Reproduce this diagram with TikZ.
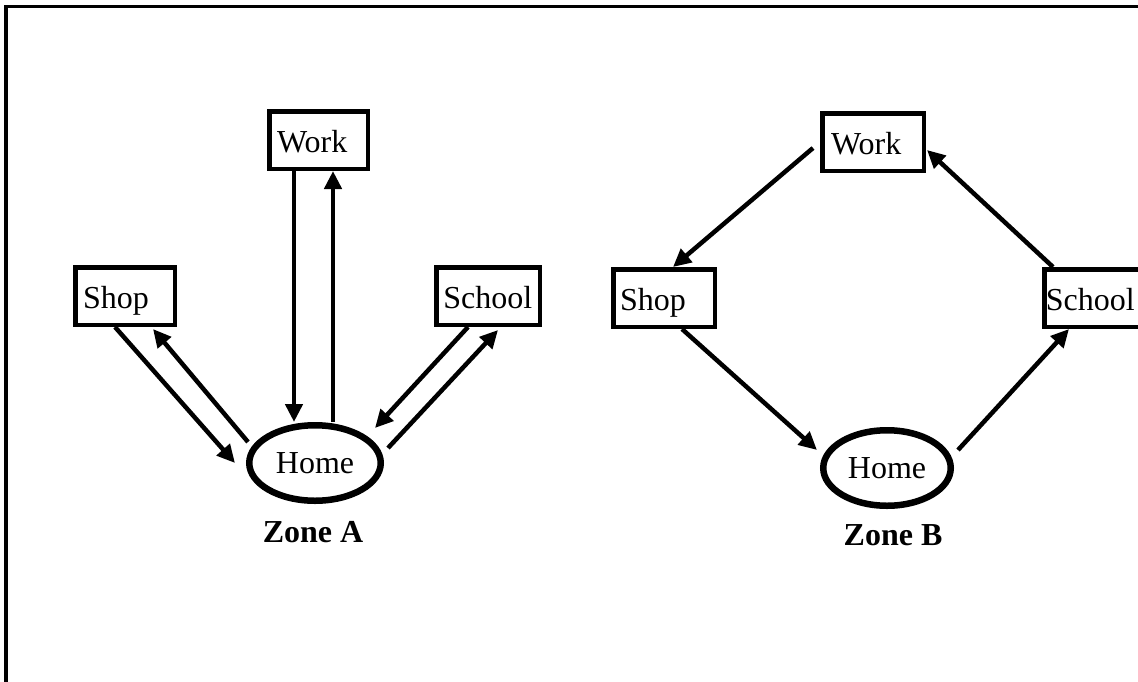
\documentclass[tikz,border=0pt]{standalone}
\usepackage{fontspec}
\setmainfont{Liberation Serif}
\usetikzlibrary{arrows.meta,shapes.geometric,calc}
\newcommand{\bigtext}{\fontsize{32}{38}\selectfont}
\tikzset{
  placebox/.style={draw, rectangle, line width=4.5pt, align=left,
    text height=24pt, text depth=0pt, inner ysep=0pt,
    minimum height=57.5pt, font=\bigtext},
  homeoval/.style={draw, ellipse, line width=6.5pt, inner sep=0pt,
    text height=20pt, text depth=0pt, minimum height=75.5pt, font=\bigtext},
  zonelabel/.style={anchor=base, inner sep=0pt, font=\bigtext\bfseries},
  trip/.style={line width=4.5pt, -{Triangle[length=18pt,width=17pt]}},
  frameline/.style={line width=3.5pt}
}
\begin{document}
\begin{tikzpicture}[x=1pt,y=-1pt]
\useasboundingbox (0,0) rectangle (1138,681);

% outer frame
\draw[frameline] (6,690) -- (6,6.5) -- (1145,6.5);

% ---- Zone A: every trip returns home ----
\node[placebox, inner xsep=7.75pt, text width=83pt] (workA) at (318.5,140) {Work};
\node[placebox, inner xsep=7.75pt, text width=84pt] (shopA) at (125,296) {Shop};
\node[placebox, inner xsep=7pt, text width=89.5pt] (schoolA) at (488,296) {School};
\node[homeoval, minimum width=131.5pt] (homeA) at (315,463) {Home};
\node[zonelabel] (zoneA) at (313,542) {Zone A};

\draw[trip] ($(workA.south)+(-24.5,0)$) -- ($(homeA.center)+(-21,-41)$);
\draw[trip] ($(homeA.center)+(18,-41)$) -- ($(workA.south)+(14.5,0)$);
\draw[trip] ($(shopA.south)+(-10,0)$) -- ($(homeA.center)+(-80,0)$);
\draw[trip] ($(homeA.center)+(-67,-21)$) -- ($(shopA.south)+(28,2)$);
\draw[trip] ($(schoolA.south)+(-20,0)$) -- ($(homeA.center)+(60,-35)$);
\draw[trip] ($(homeA.center)+(73,-15)$) -- ($(schoolA.south)+(10,3)$);

% ---- Zone B: one chained tour ----
\node[placebox, inner xsep=8.75pt, text width=84pt] (workB) at (873,142) {Work};
\node[placebox, inner xsep=6.75pt, text width=88pt] (shopB) at (664,298) {Shop};
\node[placebox, anchor=west, inner xsep=1.5pt, text width=100pt] (schoolB) at (1042,298) {School};
\node[homeoval, minimum width=127.5pt] (homeB) at (887,468) {Home};
\node[zonelabel] (zoneB) at (893,545) {Zone B};

\draw[trip] ($(workB.west)+(-7,6)$) -- ($(shopB.north)+(9,0)$);
\draw[trip] ($(shopB.south)+(18,0)$) -- ($(homeB.center)+(-70,-18)$);
\draw[trip] ($(homeB.center)+(71,-18)$) -- ($(schoolB.south west)+(27,0)$);
\draw[trip] ($(schoolB.north west)+(11,0)$) -- ($(workB.east)+(1,8)$);
\end{tikzpicture}
\end{document}
